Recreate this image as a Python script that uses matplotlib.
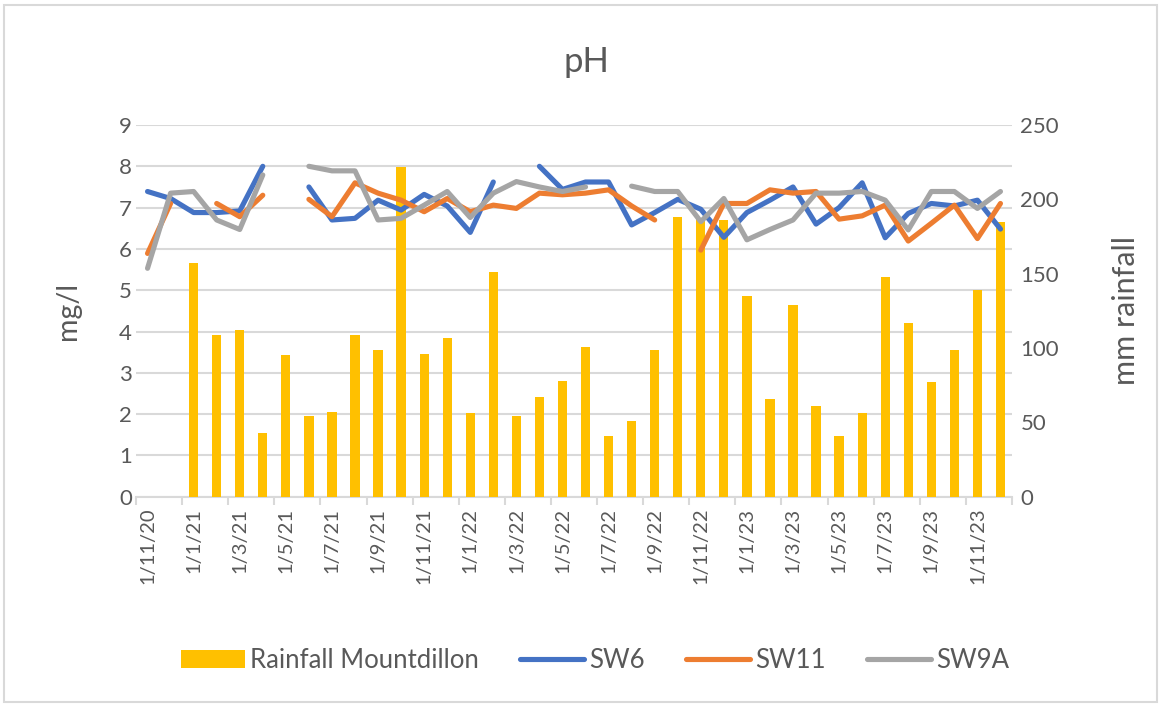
import matplotlib
matplotlib.use("Agg")
import matplotlib.pyplot as plt
import numpy as np
import pandas as pd
from matplotlib.patches import Rectangle

plt.rcParams["font.family"] = ["Lato", "DejaVu Sans"]

# monthly categories, Nov 2020 .. Dec 2023
months = pd.date_range("2020-11-01", periods=38, freq="MS")
month_labels = [f"{d.day}/{d.month}/{d.year % 100}" for d in months]

nan = np.nan
rainfall = [nan, nan, 157, 109, 112, 43, 95, 54, 57, 109, 99, 222, 96, 107,
            56, 151, 54, 67, 78, 101, 41, 51, 99, 188, 187, 186, 135, 66,
            129, 61, 41, 56, 148, 117, 77, 99, 139, 185]
sw6 = [7.39, 7.22, 6.88, 6.88, 6.92, 8.0, nan, 7.5, 6.7, 6.74, 7.18, 6.94,
       7.32, 7.04, 6.4, 7.62, nan, 8.0, 7.44, 7.62, 7.62, 6.58, 6.88, 7.2,
       6.96, 6.28, 6.88, 7.18, 7.5, 6.6, 7.0, 7.6, 6.27, 6.86, 7.1, 7.04,
       7.18, 6.48]
sw11 = [5.89, 7.1, nan, 7.1, 6.78, 7.3, nan, 7.2, 6.78, 7.6, 7.35, 7.18,
        6.9, 7.22, 6.9, 7.06, 6.98, 7.35, 7.31, 7.35, 7.43, 7.04, 6.7, nan,
        5.97, 7.1, 7.1, 7.43, 7.35, 7.39, 6.72, 6.8, 7.06, 6.19, 6.62, 7.06,
        6.25, 7.1]
sw9a = [5.53, 7.35, 7.39, 6.7, 6.47, 7.79, nan, 8.0, 7.89, 7.89, 6.7, 6.74,
        7.06, 7.39, 6.76, 7.35, 7.63, 7.5, 7.39, 7.5, nan, 7.52, 7.39, 7.39,
        6.66, 7.22, 6.22, 6.47, 6.7, 7.35, 7.35, 7.39, 7.18, 6.46, 7.39,
        7.39, 6.98, 7.39]

TEXT = "#595959"
GRID = "#d9d9d9"

W, H = 1163, 706
fig = plt.figure(figsize=(W / 100, H / 100), dpi=100)
fig.patches.append(Rectangle((4 / W, 4 / H), 1 - 10 / W, 1 - 9 / H,
                             transform=fig.transFigure, fill=False,
                             edgecolor=GRID, linewidth=1.5))

pos = [136 / W, 1 - 496.7 / H, 876 / W, 371.7 / H]
ax = fig.add_axes(pos)
ax2 = ax.twinx()
ax3 = ax.twinx()

x = np.arange(len(months)) + 0.5

# gridlines + left scale
ax.set_xlim(0, len(months))
ax.set_ylim(0, 9)
ax.set_yticks(range(10))
ax.grid(axis="y", color=GRID, linewidth=1.5)
ax.tick_params(axis="y", length=0, labelsize=16, labelcolor=TEXT, pad=3)
for side in ["left", "right", "top"]:
    ax.spines[side].set_visible(False)
ax.spines["bottom"].set_color(GRID)
ax.spines["bottom"].set_linewidth(1.5)
ax.set_xticks(np.arange(0, len(months) + 1, 2))
ax.set_xticklabels([])
ax.tick_params(axis="x", which="major", length=6, width=1.5, color=GRID)
ax.set_xticks(x[::2], minor=True)
ax.set_xticklabels(month_labels[::2], minor=True, rotation=90,
                   fontsize=14.5, color=TEXT)
ax.tick_params(axis="x", which="minor", length=0, pad=8)
ax.set_ylabel("mg/l", fontsize=20.5, color=TEXT, labelpad=27)

# rainfall bars on right scale
ax2.bar(x, rainfall, width=0.4, color="#FFC000", label="Rainfall Mountdillon")
ax2.set_ylim(0, 250)
ax2.set_yticks(range(0, 251, 50))
ax2.tick_params(axis="y", length=0, labelsize=16, labelcolor=TEXT, pad=6)
for spine in ax2.spines.values():
    spine.set_visible(False)
ax2.set_ylabel("mm rainfall", fontsize=22, color=TEXT, labelpad=38)

# pH lines on top
kw = dict(linewidth=3.7, solid_capstyle="round", solid_joinstyle="round")
ax3.plot(x, sw6, color="#4472C4", label="SW6", **kw)
ax3.plot(x, sw11, color="#ED7D31", label="SW11", **kw)
ax3.plot(x, sw9a, color="#A5A5A5", label="SW9A", **kw)
ax3.set_ylim(0, 9)
ax3.set_yticks([])
for spine in ax3.spines.values():
    spine.set_visible(False)

fig.text(586 / W, 1 - 62 / H, "pH", fontsize=25, color=TEXT,
         ha="center", va="center")

handles = ax2.get_legend_handles_labels()[0] + ax3.get_legend_handles_labels()[0]
labels = ["Rainfall Mountdillon", "SW6", "SW11", "SW9A"]
fig.legend(handles, labels, loc="center", ncol=4,
           bbox_to_anchor=(595 / W, 1 - 660 / H), frameon=False,
           fontsize=18.5, labelcolor=TEXT, handlelength=2.5,
           handletextpad=0.2, columnspacing=1.6)

fig.savefig("out.png", dpi=100)
